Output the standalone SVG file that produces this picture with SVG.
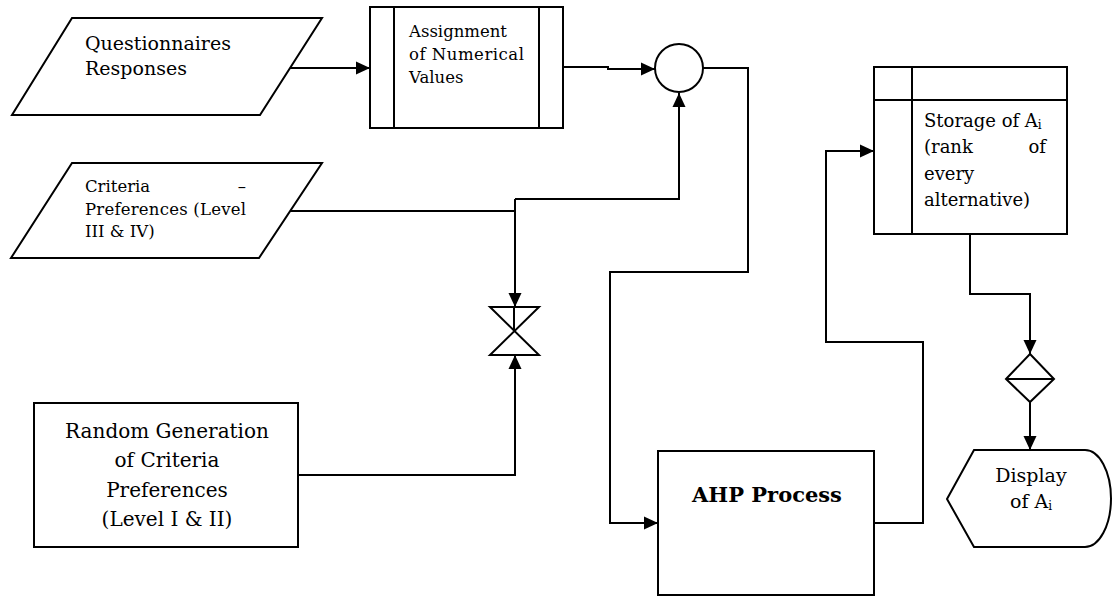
<svg xmlns="http://www.w3.org/2000/svg" width="1112" height="596" viewBox="0 0 1112 596">
<defs>
<marker id="arr" markerUnits="userSpaceOnUse" markerWidth="15" markerHeight="14" refX="14" refY="7" orient="auto">
<path d="M0,0.5 L14,7 L0,13.5 Z" fill="#000"/>
</marker>
<style>
.s{fill:#fff;stroke:#000;stroke-width:2}
.l{fill:none;stroke:#000;stroke-width:2}
.c{fill:none;stroke:#000;stroke-width:2;marker-end:url(#arr)}
text{font-family:"DejaVu Serif","Liberation Serif",serif;fill:#000}
.t16{font-size:16.5px}
.t18{font-size:18px}
.t19{font-size:19px}
.t20{font-size:20px}
.b{font-size:21px;font-weight:bold}
.sub{font-size:12px}
</style>
</defs>
<rect width="1112" height="596" fill="#fff"/>
<g id="connectors">
<path class="c" d="M290,68 H370"/>
<path class="c" d="M563,67 H608 V69 H655"/>
<path class="l" d="M290,211 H515"/>
<path class="c" d="M515,199 H679 V93"/>
<path class="c" d="M515,199 V307"/>
<path class="c" d="M299,475 H515 V355"/>
<path class="c" d="M703,68 H748 V272 H610 V523 H658"/>
<path class="c" d="M874,523 H923 V342 H826 V151 H874"/>
<path class="c" d="M970,234 V294 H1030 V354"/>
<path class="c" d="M1030,402 V450"/>
</g>
<g id="questionnaires">
<polygon class="s" points="72,18 322,18 260,115 12,115"/>
<text class="t19" x="85" y="50">Questionnaires</text>
<text class="t19" x="85" y="75">Responses</text>
</g>
<g id="assignment">
<rect class="s" x="370" y="7" width="193" height="121"/>
<line class="l" x1="394" y1="7" x2="394" y2="128"/>
<line class="l" x1="539" y1="7" x2="539" y2="128"/>
<text class="t16" x="409" y="37">Assignment</text>
<text class="t16" x="409" y="60" textLength="115" lengthAdjust="spacing">of Numerical</text>
<text class="t16" x="409" y="83">Values</text>
</g>
<g id="merge">
<circle class="s" cx="679" cy="68" r="24"/>
</g>
<g id="criteria">
<polygon class="s" points="72,163 322,163 259,258 11,258"/>
<text class="t16" x="85" y="192">Criteria</text>
<text class="t16" x="246" y="192" text-anchor="end">–</text>
<text class="t16" x="85" y="215" textLength="161" lengthAdjust="spacing">Preferences (Level</text>
<text class="t16" x="85" y="237">III &amp; IV)</text>
</g>
<g id="collate">
<path class="s" d="M490,307 H539 L490,355 H539 Z"/>
<line class="l" x1="514" y1="307" x2="514" y2="331"/>
</g>
<g id="random">
<rect class="s" x="34" y="403" width="264" height="144"/>
<text class="t20" x="167" y="438" text-anchor="middle">Random Generation</text>
<text class="t20" x="167" y="467" text-anchor="middle">of Criteria</text>
<text class="t20" x="167" y="497" text-anchor="middle">Preferences</text>
<text class="t20" x="167" y="526" text-anchor="middle">(Level I &amp; II)</text>
</g>
<g id="ahp">
<rect class="s" x="658" y="451" width="216" height="144"/>
<text class="b" x="767" y="502" text-anchor="middle">AHP Process</text>
</g>
<g id="storage">
<rect class="s" x="874" y="67" width="193" height="167"/>
<line class="l" x1="874" y1="100" x2="1067" y2="100"/>
<line class="l" x1="912" y1="67" x2="912" y2="234"/>
<text class="t18" x="924" y="127">Storage of A<tspan class="sub" dy="2">i</tspan></text>
<text class="t18" x="924" y="153">(rank</text>
<text class="t18" x="1046" y="153" text-anchor="end">of</text>
<text class="t18" x="924" y="180">every</text>
<text class="t18" x="924" y="206">alternative)</text>
</g>
<g id="sort">
<path class="s" d="M1030,354 L1054,379 L1030,402 L1006,379 Z"/>
<line class="l" x1="1006" y1="379" x2="1054" y2="379"/>
</g>
<g id="display">
<path class="s" d="M974,450 H1085 A26,48.5 0 0 1 1085,547 H974 L947,499 Z"/>
<text class="t19" x="1031" y="482" text-anchor="middle">Display</text>
<text class="t19" x="1031" y="508" text-anchor="middle">of A<tspan class="sub" dy="2">i</tspan></text>
</g>
</svg>
